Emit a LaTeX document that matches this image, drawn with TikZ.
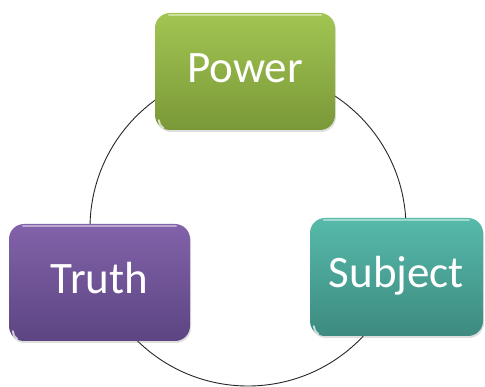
\documentclass[tikz,border=0pt]{standalone}
\usepackage{fontspec}
\setmainfont{Carlito}
\usetikzlibrary{shadows}
\definecolor{pwTop}{HTML}{A2C552}
\definecolor{pwBot}{HTML}{7A9838}
\definecolor{trTop}{HTML}{8262AA}
\definecolor{trBot}{HTML}{5C4582}
\definecolor{sbTop}{HTML}{56BAAA}
\definecolor{sbBot}{HTML}{3D8A80}
\tikzset{
  cyclebox/.style={rectangle, rounded corners=15pt, text=white,
    font=\fontsize{45}{45}\selectfont, text height=28pt, text depth=6pt,
    inner sep=0pt, drop shadow={shadow xshift=1pt, shadow yshift=-2pt, opacity=0.25}},
  ring/.style={draw=black!85, line width=0.9pt},
  gleam/.style={draw=white, opacity=0.45, line width=1.6pt, line cap=round},
  shine/.style={draw=white, opacity=0.7, line width=2pt, line cap=round}
}
\begin{document}
\begin{tikzpicture}[x=1pt, y=-1pt]
\useasboundingbox (0,0) rectangle (485,387);
\coordinate (ctr) at (248,228);
\draw[ring] (ctr) circle[radius=158];
\node[cyclebox, top color=pwTop, bottom color=pwBot, minimum width=180pt, minimum height=117pt] (power) at (245,71.5) {Power};
\node[cyclebox, top color=trTop, bottom color=trBot, minimum width=181pt, minimum height=117pt] (truth) at (99.5,282.5) {Truth};
\node[cyclebox, top color=sbTop, bottom color=sbBot, minimum width=173pt, minimum height=118pt] (subject) at (396.5,277) {Subject};
\foreach \n in {power,truth,subject}{
  \draw[gleam] ([xshift=14pt,yshift=-2pt]\n.north west) -- ([xshift=-14pt,yshift=-2pt]\n.north east);
  \draw[shine] ([xshift=4pt,yshift=10pt]\n.south west) arc[start angle=180, end angle=240, radius=9pt];
}
\end{tikzpicture}
\end{document}
